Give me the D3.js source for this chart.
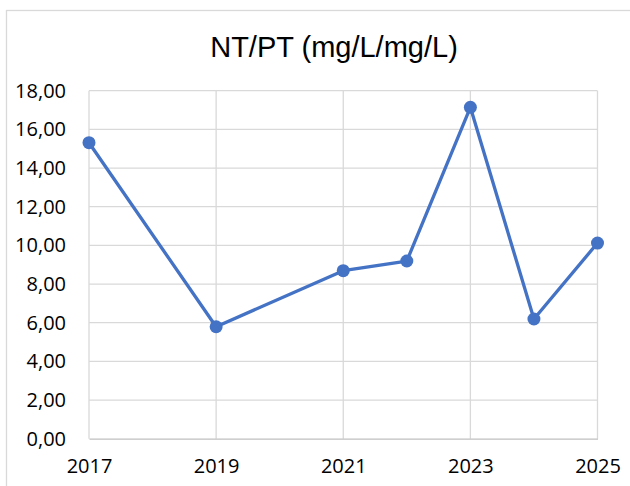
<!DOCTYPE html>
<html>
<head>
<meta charset="utf-8">
<script src="https://cdn.jsdelivr.net/npm/d3@7"></script>
<style>
  body { margin: 0; background: #fff; }
  .tick-label { font-family: 'Open Sans', sans-serif; font-size: 20px; fill: #000; }
  .title { font-family: 'Liberation Sans', Arial, sans-serif; font-size: 29px; fill: #000; }
</style>
</head>
<body>
<script>
// data
const years = [2017, 2019, 2021, 2022, 2023, 2024, 2025];
const ratios = [15.31, 5.79, 8.69, 9.19, 17.14, 6.19, 10.12];
const xTicks = [2017, 2019, 2021, 2023, 2025];
const yTicks = [0, 2, 4, 6, 8, 10, 12, 14, 16, 18];

const width = 630;
const height = 486;

const svg = d3.select('body')
  .append('svg')
  .attr('width', width)
  .attr('height', height);

// chart frame (cut off at the right and bottom in the reference)
svg.append('rect')
  .attr('x', 6.5)
  .attr('y', 10.5)
  .attr('width', width + 20)
  .attr('height', height + 20)
  .attr('fill', '#fff')
  .attr('stroke', '#d9d9d9')
  .attr('stroke-width', 1.3);

const x = d3.scaleLinear().domain([2017, 2025]).range([89, 597.5]);
const y = d3.scaleLinear().domain([0, 18]).range([438.7, 90.7]);

const comma = d3.formatLocale({ decimal: ',', thousands: '.', grouping: [3], currency: ['', ''] });
const fmt = comma.format('.2f');

// grid
const grid = svg.append('g');
grid.selectAll('line.h')
  .data(yTicks.slice(1))
  .enter()
  .append('line')
  .attr('x1', x(2017))
  .attr('x2', x(2025))
  .attr('y1', (d) => y(d))
  .attr('y2', (d) => y(d))
  .attr('stroke', '#d9d9d9')
  .attr('stroke-width', 1.3);
grid.selectAll('line.v')
  .data(xTicks)
  .enter()
  .append('line')
  .attr('x1', (d) => x(d))
  .attr('x2', (d) => x(d))
  .attr('y1', y(18))
  .attr('y2', y(0))
  .attr('stroke', '#d9d9d9')
  .attr('stroke-width', 1.3);

// axes
const yAxis = d3.axisLeft(y).tickValues(yTicks).tickFormat(fmt).tickSize(0).tickPadding(23);
svg.append('g')
  .attr('transform', `translate(${x(2017)},0)`)
  .call(yAxis)
  .call((g) => g.select('.domain').remove())
  .call((g) => g.selectAll('text').attr('class', 'tick-label').attr('font-family', null).attr('font-size', null).attr('fill', null));

const xAxis = d3.axisBottom(x).tickValues(xTicks).tickFormat(d3.format('d')).tickSize(0).tickPadding(20);
svg.append('g')
  .attr('transform', `translate(0,${y(0)})`)
  .call(xAxis)
  .call((g) => g.select('.domain').attr('stroke', '#bfbfbf').attr('stroke-width', 1.3))
  .call((g) => g.selectAll('text').attr('class', 'tick-label').attr('font-family', null).attr('font-size', null).attr('fill', null));

// series
const points = years.map((yr, i) => [yr, ratios[i]]);
const line = d3.line().x((d) => x(d[0])).y((d) => y(d[1]));
svg.append('path')
  .datum(points)
  .attr('d', line)
  .attr('fill', 'none')
  .attr('stroke', '#4472c4')
  .attr('stroke-width', 3.3)
  .attr('stroke-linejoin', 'round');
svg.selectAll('circle')
  .data(points)
  .enter()
  .append('circle')
  .attr('cx', (d) => x(d[0]))
  .attr('cy', (d) => y(d[1]))
  .attr('r', 6.5)
  .attr('fill', '#4472c4');

// title
svg.append('text')
  .attr('class', 'title')
  .attr('x', 334)
  .attr('y', 57)
  .attr('text-anchor', 'middle')
  .text('NT/PT (mg/L/mg/L)');
</script>
</body>
</html>
